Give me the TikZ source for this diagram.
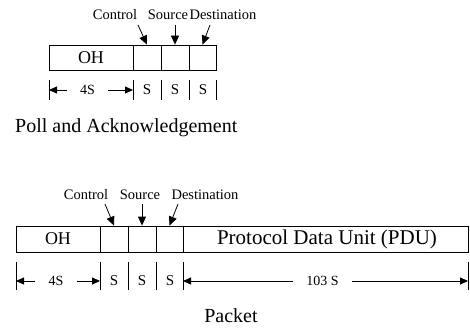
\documentclass[tikz,border=0pt]{standalone}
\usepackage{fontspec}
\setmainfont{Liberation Serif}
\usepackage{tikz}
\usetikzlibrary{arrows.meta,calc,positioning}

\begin{document}
\begin{tikzpicture}[x=1pt,y=-1pt,
  cell/.style={draw,line width=0.8pt,minimum height=25pt,inner sep=0pt,font=\fontsize{18}{20}\selectfont},
  tag/.style={inner sep=0pt,font=\fontsize{14.5}{16}\selectfont},
  dimtxt/.style={inner sep=0pt,font=\fontsize{14}{16}\selectfont},
  size/.style={inner sep=0pt,font=\fontsize{15}{17}\selectfont},
  caption/.style={inner sep=0pt,font=\fontsize{20}{22}\selectfont},
  ptr/.style={-{Triangle[length=9pt,width=8pt]},line width=0.8pt},
  dim/.style={-{Triangle[length=8pt,width=7pt]},line width=0.8pt},
  tick/.style={line width=0.8pt}
]
\useasboundingbox (0,0) rectangle (470,329);
% poll and acknowledgement
\node[cell,minimum width=84pt] (oh) at (91,57.5) {OH};
\node[cell,minimum width=28pt] (ctl) at (147,57.5) {};
\node[cell,minimum width=28pt] (src) at (175,57.5) {};
\node[cell,minimum width=27pt] (dst) at (202.5,57.5) {};
\node[tag] (lctl) at (115,15) {Control};
\node[tag] (lsrc) at (168,15) {Source};
\node[tag] (ldst) at (223,15) {Destination};
\coordinate (actl) at (138,25);
\coordinate (asrc) at (175,25);
\coordinate (adst) at (210,25);
\draw[ptr] (actl) -- (ctl.north);
\draw[ptr] (asrc) -- (src.north);
\draw[ptr] (adst) -- (dst.north);
\foreach \x [count=\i] in {49,133,161,189,216}{
  \coordinate (pt\i) at (\x,80); \coordinate (pb\i) at (\x,100);
  \draw[tick] (pt\i) -- (pb\i);
}
\node[dimtxt,minimum width=41pt] (four) at (87.5,90) {4S};
\draw[dim] (four.west) -- (pt1 |- four.west);
\draw[dim] (four.east) -- (pt2 |- four.east);
\node[size] (s1) at (147,90) {S};
\node[size] (s2) at (175,90) {S};
\node[size] (s3) at (203,90) {S};
\node[caption,anchor=west] (poll) at (15,128) {Poll and Acknowledgement};

% packet
\node[cell,minimum width=84pt,minimum height=26pt] (ohp) at (58,239) {OH};
\node[cell,minimum width=28pt,minimum height=26pt] (ctlp) at (114,239) {};
\node[cell,minimum width=28pt,minimum height=26pt] (srcp) at (142,239) {};
\node[cell,minimum width=27pt,minimum height=26pt] (dstp) at (169.5,239) {};
\node[cell,minimum width=285pt,minimum height=26pt,font=\fontsize{21}{23}\selectfont] (pdu) at (325.5,239) {\hspace{3pt}Protocol Data Unit (PDU)};
\node[tag] (lctlp) at (86,195) {Control};
\node[tag] (lsrcp) at (140,195) {Source};
\node[tag] (ldstp) at (205,195) {Destination};
\coordinate (actlp) at (105,204);
\coordinate (asrcp) at (142,204);
\coordinate (adstp) at (178,204);
\draw[ptr] (actlp) -- (ctlp.north);
\draw[ptr] (asrcp) -- (srcp.north);
\draw[ptr] (adstp) -- (dstp.north);
\foreach \x [count=\i] in {16,100,128,156,183,468}{
  \coordinate (qt\i) at (\x,262); \coordinate (qb\i) at (\x,290);
  \draw[tick] (qt\i) -- (qb\i);
}
\node[dimtxt,minimum width=42pt] (fourp) at (56,281) {4S};
\draw[dim] (fourp.west) -- (qt1 |- fourp.west);
\draw[dim] (fourp.east) -- (qt2 |- fourp.east);
\node[size] (s1p) at (114,281) {S};
\node[size] (s2p) at (142,281) {S};
\node[size] (s3p) at (170,281) {S};
\node[dimtxt,minimum width=59pt] (big) at (322.5,281) {103 S};
\draw[dim] (big.west) -- (qt5 |- big.west);
\draw[dim] (big.east) -- (qt6 |- big.east);
\node[caption] (pkt) at (231,316) {Packet};
\end{tikzpicture}
\end{document}
